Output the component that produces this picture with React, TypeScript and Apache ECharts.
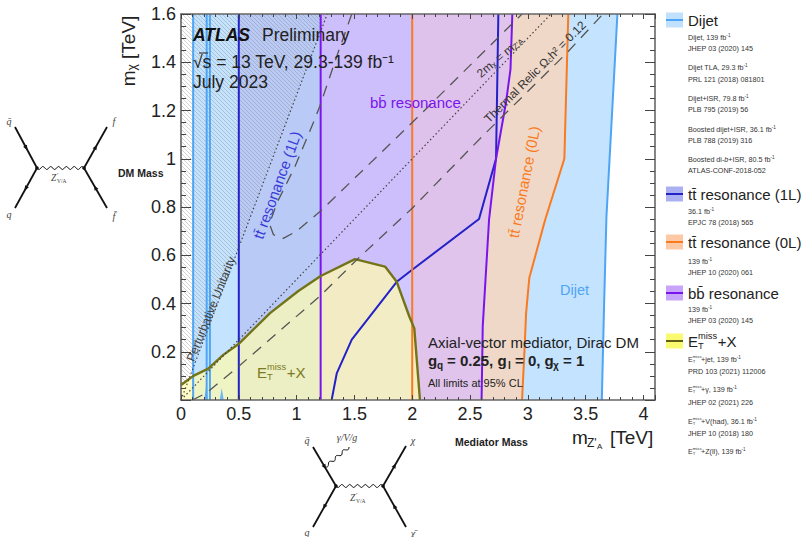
import React, { useEffect, useRef } from "react";
import * as echarts from "echarts";

const FONT = '"Liberation Sans", Arial, sans-serif';
const SERIF = '"Liberation Serif", serif';

// Limit contours, [mZ'A, mchi] in TeV
const dijetCurve = [[3.64, 0], [3.66, 0.4], [3.68, 0.76], [3.775, 1.6]];
const dijetLowEdges = [0.105, 0.222, 0.25];
const dijetSpikeA = [[0.2, 0], [0.215, 0.05], [0.222, 0.07], [0.23, 0]];
const dijetSpikeB = [[0.335, 0], [0.352, 0.05], [0.37, 0]];
const oneLEdge = 0.5;
const oneLCurve = [[1.303, 0], [1.347, 0.11], [1.477, 0.25], [1.866, 0.49], [2.0, 0.54], [2.578, 0.75], [2.725, 1.0], [2.745, 1.6]];
const bbEdge = 1.208;
const bbCurve = [[2.6, 0], [2.61, 0.305], [2.665, 0.75], [2.725, 1.0], [2.81, 1.23], [2.85, 1.37], [2.866, 1.6]];
const zeroLEdge = 2.0;
const zeroLCurve = [[2.95, 0], [2.97, 0.195], [2.985, 0.36], [3.013, 0.507], [3.15, 0.747], [3.316, 1.0], [3.35, 1.6]];
const metCurve = [[0, 0.062], [0.05, 0.08], [0.107, 0.1], [0.236, 0.13], [0.366, 0.187], [0.495, 0.231], [0.77, 0.36], [1.015, 0.452], [1.208, 0.514], [1.505, 0.584], [1.765, 0.553], [1.866, 0.49], [1.975, 0.346], [2.018, 0.297], [2.067, 0]];
const relicUpper = [[1.477, 1.6], [1.347, 1.424], [1.2, 1.217], [1.145, 1.15], [0.986, 0.968], [0.83, 0.817], [0.765, 0.73], [0.8, 0.685], [0.885, 0.67], [1.0, 0.7], [1.2, 0.78], [2.0, 1.15], [2.95, 1.6]];
const relicLower = [[0.1, 0], [0.222, 0.03], [0.5, 0.14], [1.2, 0.43], [1.55, 0.595], [2.0, 0.795], [2.6, 1.09], [3.34, 1.44], [3.65, 1.6]];
const unitarityLine = [[0, 0], [1.265, 1.6]];
const hatchStart = [[0, 0.062], [0.072, 0.09]];
const twoMLine = [[0, 0], [3.2, 1.6]];

const X_MAX = 4.1;
const Y_MAX = 1.6;

const legendSmall: [string, number][] = [
  ["Dijet, 139 fb{s|-1}", 37], ["JHEP 03 (2020) 145", 48],
  ["Dijet TLA, 29.3 fb{s|-1}", 67], ["PRL 121 (2018) 081801", 79],
  ["Dijet+ISR, 79.8 fb{s|-1}", 98], ["PLB 795 (2019) 56", 109],
  ["Boosted dijet+ISR, 36.1 fb{s|-1}", 129], ["PLB 788 (2019) 316", 140],
  ["Boosted di-{i|b}+ISR, 80.5 fb{s|-1}", 159], ["ATLAS-CONF-2018-052", 170],
  ["36.1 fb{s|-1}", 211], ["EPJC 78 (2018) 565", 222],
  ["139 fb{s|-1}", 261], ["JHEP 10 (2020) 061", 272],
  ["139 fb{s|-1}", 309], ["JHEP 03 (2020) 145", 320],
  ["PRD 103 (2021) 112006", 371], ["JHEP 02 (2021) 226", 402], ["JHEP 10 (2018) 180", 433],
];
const legendMet: [string, number][] = [
  ["+jet, 139 fb{s|-1}", 359], ["+γ, 139 fb{s|-1}", 389],
  ["+V(had), 36.1 fb{s|-1}", 421], ["+Z(ll), 139 fb{s|-1}", 451],
];
const legendHeads: [string, number, string, string][] = [
  ["Dijet", 20, "#c0e0fc", "#4ea5f5"],
  ["tt\u0304 resonance (1L)", 194, "#aab0f0", "#2222c8"],
  ["tt\u0304 resonance (0L)", 242, "#fdc9a4", "#f97a20"],
  ["bb\u0304 resonance", 293, "#c8a5fa", "#7a14ee"],
];

function t(text: string, x: number, y: number, o: any = {}) {
  const size = o.size ?? 12;
  return {
    type: "text", x, y, z: 30, silent: true,
    rotation: o.rot ? (o.rot * Math.PI) / 180 : 0,
    style: {
      text, fontFamily: o.family ?? FONT, fontSize: size, fontWeight: o.weight ?? "normal",
      fontStyle: o.style ?? "normal", fill: o.color ?? "#222",
      align: o.align ?? "left", verticalAlign: "middle", rich: o.rich,
    },
  };
}
function richSmall(size: number, color: string) {
  return {
    s: { fontSize: size * 0.65, fontFamily: FONT, fill: color, verticalAlign: "top", lineHeight: size * 1.2 },
    i: { fontSize: size, fontFamily: FONT, fontStyle: "italic", fill: color },
  };
}
function wrapRich(text: string) {
  return text.split(/(\{[a-z]\|[^}]*\})/).filter(Boolean).map((p) => (p.startsWith("{") && p[2] === "|" ? p : `{n|${p}}`)).join("");
}
function small(text: string, x: number, y: number, size = 7.2, color = "#333") {
  const rich: any = richSmall(size, color);
  rich.n = { fontSize: size, fontFamily: FONT, fill: color, lineHeight: size * 1.2 };
  return t(wrapRich(text), x, y, { size, color, rich });
}
function met(x: number, y: number, size: number, color: string, rest: string) {
  const els: any[] = [
    t("E", x, y, { size, color }),
    t("miss", x + size * 0.67, y - size * 0.32, { size: size * 0.62, color }),
    t("T", x + size * 0.67, y + size * 0.3, { size: size * 0.62, color }),
  ];
  if (rest) els.push(t(rest, x + size * 1.98, y, { size, color }));
  return els;
}
function seg(x1: number, y1: number, x2: number, y2: number, width = 1.8, color = "#111") {
  return { type: "line", z: 30, silent: true, shape: { x1, y1, x2, y2 }, style: { stroke: color, lineWidth: width } };
}
function arrow(x1: number, y1: number, x2: number, y2: number) {
  const mx = (x1 + x2) / 2, my = (y1 + y2) / 2, l = Math.hypot(x2 - x1, y2 - y1);
  const ux = (x2 - x1) / l, uy = (y2 - y1) / l;
  return {
    type: "polygon", z: 31, silent: true,
    shape: { points: [[mx + ux * 3, my + uy * 3], [mx - ux * 2 - uy * 2.2, my - uy * 2 + ux * 2.2], [mx - ux * 2 + uy * 2.2, my - uy * 2 - ux * 2.2]] },
    style: { fill: "#111" },
  };
}
function fermion(x1: number, y1: number, x2: number, y2: number) {
  return [seg(x1, y1, x2, y2), arrow(x1, y1, x2, y2)];
}
function wave(x1: number, y1: number, x2: number, y2: number, periods: number) {
  const l = Math.hypot(x2 - x1, y2 - y1), ux = (x2 - x1) / l, uy = (y2 - y1) / l;
  const pts: number[][] = [];
  const n = periods * 10;
  for (let i = 0; i <= n; i++) {
    const f = i / n, a = 1.5 * Math.sin(f * periods * 2 * Math.PI);
    pts.push([x1 + ux * l * f - uy * a, y1 + uy * l * f + ux * a]);
  }
  return { type: "polyline", z: 30, silent: true, shape: { points: pts }, style: { stroke: "#111", lineWidth: 1, fill: "none" } };
}
function zprime(x: number, y: number) {
  return [
    t("Z", x, y, { size: 9.5, family: SERIF, style: "italic", color: "#444" }),
    t("′", x + 6, y - 3, { size: 7, family: SERIF, color: "#444" }),
    t("V/A", x + 6, y + 3, { size: 5.5, family: SERIF, color: "#444" }),
  ];
}

function fillSeries(points: number[][], fill: any) {
  return {
    type: "custom", coordinateSystem: "cartesian2d", silent: true, data: points,
    renderItem: (p: any, api: any) => (p.dataIndex === 0
      ? { type: "polygon", shape: { points: points.map((q) => api.coord(q)) }, style: { fill, stroke: "none" } }
      : null),
  };
}
function lineSeries(points: number[][], color: string, width = 2, dash?: any) {
  return {
    type: "line", data: points, showSymbol: false, silent: true, smooth: false,
    lineStyle: { color, width, type: dash ?? "solid", cap: "butt" },
  };
}
function vline(x: number) {
  return [[x, 0], [x, Y_MAX]];
}
function makeHatch() {
  const c = document.createElement("canvas");
  c.width = 4; c.height = 4;
  const g = c.getContext("2d")!;
  g.strokeStyle = "rgba(135,135,135,0.38)";
  g.lineWidth = 1;
  g.beginPath();
  g.moveTo(-1, -1); g.lineTo(5, 5);
  g.moveTo(3, -1); g.lineTo(5, 1);
  g.moveTo(-1, 3); g.lineTo(1, 5);
  g.stroke();
  return c;
}

export default function App() {
  const ref = useRef<HTMLDivElement>(null);
  useEffect(() => {
    const chart = echarts.init(ref.current!, undefined, { renderer: "svg" });
    const axisCommon = { min: 0, axisLine: { onZero: false, lineStyle: { color: "#666", width: 1.6 } }, z: 10 };
    const xa = (position: string, show: boolean) => ({
      ...axisCommon, type: "value", position, max: X_MAX, interval: 0.5,
      minorTick: { show: true, splitNumber: 5, length: 3, lineStyle: { color: "#444", width: 1 } },
      axisTick: { show: true, inside: true, length: 5, lineStyle: { color: "#444", width: 1 } },
      splitLine: { show: false }, minorSplitLine: { show: false },
      axisLabel: { show, fontFamily: FONT, fontSize: 18, color: "#222", margin: 5, formatter: (v: number) => String(v), showMaxLabel: false },
    });
    const ya = (position: string, show: boolean) => ({
      ...axisCommon, type: "value", position, max: Y_MAX, interval: 0.2,
      minorTick: { show: true, splitNumber: 4, length: 5, lineStyle: { color: "#444", width: 1 } },
      axisTick: { show: true, inside: true, length: 10, lineStyle: { color: "#444", width: 1 } },
      splitLine: { show: false }, minorSplitLine: { show: false },
      axisLabel: { show, fontFamily: FONT, fontSize: 18, color: "#222", margin: 5, formatter: (v: number) => (v === 0 ? "" : v.toFixed(1).replace(/\.0$/, "")) },
    });

    const hatch = { image: makeHatch(), repeat: "repeat" };
    const dijetFill = [[dijetLowEdges[0], 0], ...dijetCurve, [dijetLowEdges[0], Y_MAX]];
    const oneLFill = [[oneLEdge, 0], ...oneLCurve, [oneLEdge, Y_MAX]];
    const bbFill = [[bbEdge, 0], ...bbCurve, [bbEdge, Y_MAX]];
    const zeroLFill = [[zeroLEdge, 0], ...zeroLCurve, [zeroLEdge, Y_MAX]];
    const metFill = [[0, 0], ...metCurve];
    const hatchFill = [...hatchStart, ...unitarityLine.slice(1), [0, Y_MAX]];

    const series: any[] = [
      fillSeries(dijetFill, "rgb(196,227,255)"),
      fillSeries(oneLFill, "rgba(150,125,220,0.24)"),
      fillSeries(zeroLFill, "rgba(255,212,182,0.75)"),
      fillSeries(bbFill, "rgba(215,185,255,0.66)"),
      fillSeries(metFill, "rgba(253,250,178,0.75)"),
      fillSeries(hatchFill, hatch),
      fillSeries(dijetSpikeA, "#6cb6f8"),
      fillSeries(dijetSpikeB, "#6cb6f8"),
      ...dijetLowEdges.map((x) => lineSeries(vline(x), "#4ea5f5", 2)),
      lineSeries(dijetCurve, "#4ea5f5", 2),
      lineSeries(vline(oneLEdge), "#2222c8", 2),
      lineSeries(oneLCurve, "#2222c8", 2),
      lineSeries(vline(zeroLEdge), "#f97a20", 2),
      lineSeries(zeroLCurve, "#f97a20", 2),
      lineSeries(vline(bbEdge), "#7a14ee", 2),
      lineSeries(bbCurve, "#7a14ee", 2),
      lineSeries(metCurve, "#737318", 2.4),
      lineSeries(relicUpper, "#555", 1.3, [11, 8]),
      lineSeries(relicLower, "#555", 1.3, [11, 8]),
      lineSeries(unitarityLine, "#444", 1.2, [1.5, 2.5]),
      lineSeries(twoMLine, "#444", 1.2, [1.5, 2.5]),
    ];

    const graphic: any[] = [
      // header texts
      t("ATLAS", 193, 35, { size: 17.5, weight: "bold", style: "italic", color: "#111" }),
      t("Preliminary", 262, 35, { size: 17.5 }),
      t("√s = 13 TeV, 29.3-139 fb⁻¹", 193, 62, { size: 17.5 }),
      seg(199, 53, 208, 53, 1, "#222"),
      t("July 2023", 193, 82, { size: 17.5 }),
      // region labels
      t("bb\u0304 resonance", 370, 102, { size: 15, color: "#7a14ee" }),
      t("tt\u0304 resonance (1L)", 277, 185, { size: 15, color: "#3a3ad8", rot: 70, align: "center" }),
      t("tt\u0304 resonance (0L)", 524, 182, { size: 15, color: "#f97a20", rot: 79, align: "center" }),
      t("Dijet", 560, 290, { size: 14.5, color: "#4ea5f5" }),
      t("Perturbative Unitarity", 211, 309, { size: 12, color: "#444", rot: 68, align: "center" }),
      t("2m{x|χ} = m{x|Z'A}", 500, 57, { size: 12, color: "#333", rot: 40, align: "center", rich: { x: { fontSize: 8, fontFamily: FONT, fill: "#333", verticalAlign: "bottom" } } }),
      t("Thermal Relic Ω{x|c}h² = 0.12", 535, 72, { size: 12, color: "#333", rot: 45, align: "center", rich: { x: { fontSize: 8, fontFamily: FONT, fill: "#333", verticalAlign: "bottom" } } }),
      ...met(257, 372, 15, "#7a7a20", "+X"),
      t("Axial-vector mediator, Dirac DM", 428, 342, { size: 15 }),
      t("g", 428, 360, { size: 15, weight: "bold" }),
      t("q", 437, 365, { size: 10, weight: "bold" }),
      t("= 0.25, g", 447, 360, { size: 15, weight: "bold" }),
      t("l", 508, 365, { size: 10, weight: "bold" }),
      t("= 0, g", 515, 360, { size: 15, weight: "bold" }),
      t("χ", 553, 365, { size: 10, weight: "bold" }),
      t("= 1", 563, 360, { size: 15, weight: "bold" }),
      t("All limits at 95% CL", 428, 383, { size: 11 }),
      // axis titles
      t("m{x|χ} [TeV]", 128, 51, { size: 19, rot: 90, align: "center", rich: { x: { fontSize: 12, fontFamily: FONT, fill: "#222", verticalAlign: "bottom" } } }),
      t("m", 572, 437, { size: 19 }),
      t("Z'", 587, 443, { size: 12 }),
      t("A", 597, 446, { size: 8 }),
      t("[TeV]", 610, 437, { size: 19 }),
      t("Mediator Mass", 455, 442, { size: 10.5, weight: "bold" }),
      t("DM Mass", 118, 173, { size: 10.5, weight: "bold" }),
      // legend
      ...legendHeads.flatMap(([label, y, fill, stroke]) => [
        { type: "rect", z: 30, silent: true, shape: { x: 666, y: y - 7.5, width: 17, height: 15 }, style: { fill } },
        seg(666, y, 683, y, 2, stroke),
        t(label, 688, y, { size: 15 }),
      ]),
      { type: "rect", z: 30, silent: true, shape: { x: 666, y: 333.5, width: 17, height: 15 }, style: { fill: "#fafa70" } },
      seg(666, 341, 683, 341, 2, "#5f5f14"),
      ...met(688, 341, 15, "#222", "+X"),
      ...legendSmall.map(([s, y]) => small(s, 688, y)),
      ...legendMet.flatMap(([s, y]) => [...met(688, y, 7, "#333", ""), small(s, 701, y)]),
      // left Feynman diagram
      ...fermion(15, 127, 37, 168), ...fermion(37, 168, 15, 208),
      ...fermion(84, 168, 107, 127), ...fermion(107, 208, 84, 168),
      wave(37, 168, 84, 168, 6),
      { type: "circle", z: 31, silent: true, shape: { cx: 37, cy: 168, r: 1.8 }, style: { fill: "#111" } },
      { type: "circle", z: 31, silent: true, shape: { cx: 84, cy: 168, r: 1.8 }, style: { fill: "#111" } },
      t("q\u0304", 9, 121, { size: 10, family: SERIF, style: "italic", align: "center", color: "#444" }),
      t("q", 9, 214, { size: 10, family: SERIF, style: "italic", align: "center", color: "#444" }),
      t("f", 114, 121, { size: 10, family: SERIF, style: "italic", align: "center", color: "#444" }),
      t("f\u0304", 114, 216, { size: 10, family: SERIF, style: "italic", align: "center", color: "#444" }),
      ...zprime(51, 178),
      // bottom Feynman diagram
      ...fermion(313, 447, 336, 486), ...fermion(336, 486, 313, 527),
      ...fermion(383, 486, 406, 446), ...fermion(406, 527, 383, 486),
      wave(336, 486, 383, 486, 6),
      wave(325, 467, 349, 447, 3.5),
      { type: "circle", z: 31, silent: true, shape: { cx: 336, cy: 486, r: 1.8 }, style: { fill: "#111" } },
      { type: "circle", z: 31, silent: true, shape: { cx: 383, cy: 486, r: 1.8 }, style: { fill: "#111" } },
      t("q\u0304", 307, 440, { size: 10, family: SERIF, style: "italic", align: "center", color: "#444" }),
      t("γ/V/g", 347, 437, { size: 10, family: SERIF, style: "italic", align: "center", color: "#444" }),
      t("χ", 413, 440, { size: 10, family: SERIF, style: "italic", align: "center", color: "#444" }),
      t("q", 307, 532, { size: 10, family: SERIF, style: "italic", align: "center", color: "#444" }),
      t("χ\u0304", 413, 533, { size: 10, family: SERIF, style: "italic", align: "center", color: "#444" }),
      ...zprime(350, 498),
    ];

    chart.setOption({
      animation: false,
      backgroundColor: "#fff",
      grid: { left: 181, top: 14, right: 150, bottom: 137, containLabel: false },
      xAxis: [xa("bottom", true), xa("top", false)],
      yAxis: [ya("left", true), ya("right", false)],
      series,
      graphic: { elements: graphic },
    });
    return () => chart.dispose();
  }, []);
  return <div ref={ref} style={{ position: "fixed", left: 0, top: 0, width: 805, height: 537 }} />;
}
